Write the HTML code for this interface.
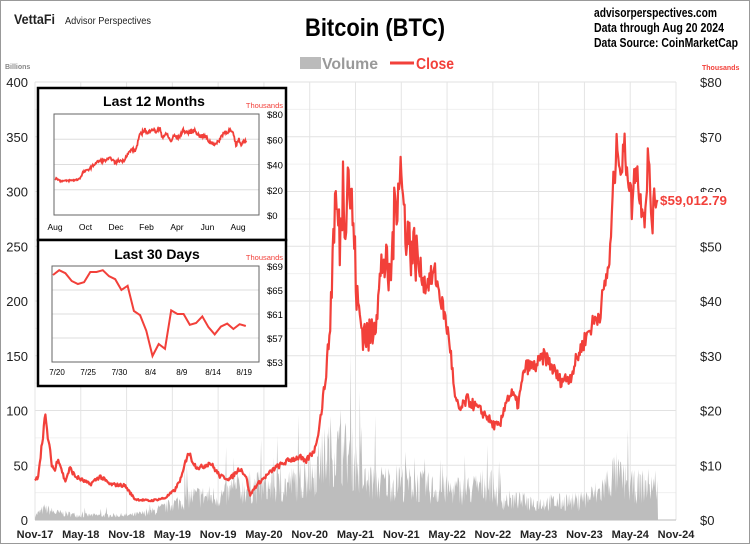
<!DOCTYPE html>
<html><head><meta charset="utf-8"><style>
body{margin:0;width:750px;height:544px;overflow:hidden;background:#fff;font-family:"Liberation Sans",sans-serif}
</style></head><body>
<svg id="s" width="750" height="544" xmlns="http://www.w3.org/2000/svg" font-family="Liberation Sans, sans-serif">
<rect x="0.5" y="0.5" width="749" height="543" fill="#fff" stroke="#999"/>
<g id="grid"></g>
<g id="vol"></g>
<g id="price"></g>
<text x="14" y="24" font-size="14" font-weight="bold" fill="#222" textLength="41" lengthAdjust="spacingAndGlyphs">VettaFi</text>
<text x="65" y="24" font-size="10" fill="#222" textLength="86" lengthAdjust="spacingAndGlyphs">Advisor Perspectives</text>
<text x="375" y="36" font-size="25" font-weight="bold" text-anchor="middle" fill="#000" textLength="140" lengthAdjust="spacingAndGlyphs">Bitcoin (BTC)</text>
<text x="594" y="17" font-size="12.5" font-weight="bold" textLength="123" lengthAdjust="spacingAndGlyphs">advisorperspectives.com</text>
<text x="594" y="32" font-size="12.5" font-weight="bold" textLength="130" lengthAdjust="spacingAndGlyphs">Data through Aug 20 2024</text>
<text x="594" y="47" font-size="12.5" font-weight="bold" textLength="144" lengthAdjust="spacingAndGlyphs">Data Source: CoinMarketCap</text>
<rect x="300" y="57" width="21" height="12" fill="#bbb"/>
<text x="322" y="69" font-size="16" font-weight="bold" fill="#999" textLength="56" lengthAdjust="spacingAndGlyphs">Volume</text>
<line x1="390" y1="63" x2="414" y2="63" stroke="#f2403a" stroke-width="3"/>
<text x="416" y="69" font-size="16" font-weight="bold" fill="#f2403a" textLength="38" lengthAdjust="spacingAndGlyphs">Close</text>
<text x="5" y="69" font-size="7" font-weight="bold" fill="#888">Billions</text>
<text x="702" y="70" font-size="7" font-weight="bold" fill="#f2403a">Thousands</text>
<g id="labels" font-size="13" fill="#222"></g>
<rect x="660" y="192" width="68" height="16" fill="#fff"/>
<text x="660" y="205" font-size="13" font-weight="bold" fill="#f2403a" textLength="67" lengthAdjust="spacingAndGlyphs">$59,012.79</text>
<g id="in1"></g>
<g id="in2"></g>
</svg>
<script>
const NS="http://www.w3.org/2000/svg";
function el(p,t,a,txt){const e=document.createElementNS(NS,t);for(const k in a)e.setAttribute(k,a[k]);if(txt!=null)e.textContent=txt;document.getElementById(p).appendChild(e);return e;}
let seed=7;function rnd(){seed=(seed*16807)%2147483647;return seed/2147483647;}
const X0=35,X1=676,Y0=520,Y1=82;
const mx=m=>X0+m*(X1-X0)/84;
for(let i=0;i<=16;i++){const y=Y0-i*(Y0-Y1)/16;el('grid','line',{x1:X0,x2:X1,y1:y,y2:y,stroke:i%2?'#f0f0f0':'#e2e2e2'});}
for(let i=0;i<=14;i++){const x=mx(i*6);el('grid','line',{x1:x,x2:x,y1:Y1,y2:Y0,stroke:'#e4e4e4'});}
el('grid','line',{x1:X0,x2:X1,y1:Y0,y2:Y0,stroke:'#bbb'});
for(let i=0;i<=8;i++){const y=Y0-i*(Y0-Y1)/8;el('labels','text',{x:28,y:y+5,'text-anchor':'end'},String(i*50));if(i!=6)el('labels','text',{x:700,y:y+5},'$'+(i*10));}
el('labels','text',{x:700,y:197},'$60');
const ml=['Nov-17','May-18','Nov-18','May-19','Nov-19','May-20','Nov-20','May-21','Nov-21','May-22','Nov-22','May-23','Nov-23','May-24','Nov-24'];
ml.forEach((t,i)=>el('labels','text',{x:mx(i*6),y:538,'text-anchor':'middle','font-size':'11','font-weight':'bold'},t));
function interp(t,m){if(m<=t[0][0])return t[0][1];for(let i=1;i<t.length;i++)if(m<=t[i][0]){const a=t[i-1],b=t[i];return a[1]+(b[1]-a[1])*(m-a[0])/(b[0]-a[0]);}return t[t.length-1][1];}
const venv=[[35,5],[45,12],[55,8],[80,5],[130,5],[150,8],[170,15],[190,25],[220,25],[250,35],[280,35],[310,45],[330,75],[350,70],[365,40],[400,40],[440,32],[470,32],[490,40],[500,22],[540,18],[580,20],[600,30],[615,50],[630,35],[658,38]];
let vp='M'+X0+','+Y0;const vs=(Y0-Y1)/400;
for(let x=X0;x<=658;x+=0.7){let v=interp(venv,x)*(0.4+rnd()*0.9);if(rnd()<0.05)v*=1.9;vp+=' L'+x.toFixed(1)+','+(Y0-v*vs).toFixed(1);}
vp+=' L658,'+Y0+' Z';el('vol','path',{d:vp,fill:'#bdbdbd'});
const tab=[[35,7],[38,8],[42,14],[45,19],[48,15],[52,10],[55,9],[58,11.5],[62,9],[65,7],[70,9.5],[75,8],[80,7.5],[90,6.5],[100,8],[110,6.5],[125,6.3],[130,5],[135,3.8],[150,3.5],[165,4],[175,5.5],[182,8],[188,12.5],[195,10],[200,9.5],[210,10.5],[220,8],[230,7.5],[240,9.5],[246,8],[250,4.5],[255,6],[260,7],[275,9.5],[290,11],[300,11.5],[305,10.5],[315,13],[320,18],[325,25],[330,35],[333,50],[335,58],[338,55],[340,50],[343,62],[345,55],[348,65],[350,60],[353,55],[357,40],[362,35],[370,33],[378,40],[383,48],[390,43],[395,57],[398,62],[400,66],[403,58],[405,55],[410,50],[415,49],[425,43],[435,45],[445,37],[450,32],[455,22],[460,20],[467,22],[480,20],[487,19],[492,17.5],[500,17],[506,22],[512,23],[518,21],[525,28],[535,28],[545,30],[555,27],[560,25.5],[570,26],[580,31],[590,35],[600,38],[605,43],[610,48],[613,60],[618,70],[621,63],[624,68],[628,64],[632,57],[636,66],[640,58],[643,58],[645,55],[648,67],[652,54],[655,59],[658,59]];
const ps=(Y0-Y1)/80;let pp='';
for(let x=X0;x<=658;x+=0.8){let v=interp(tab,x);const nz=(x>330&&x<420)?0.22:0.1;v*=1+(rnd()-0.5)*nz;pp+=(pp?' L':'M')+x.toFixed(1)+','+(Y0-v*ps).toFixed(1);}
el('price','path',{d:pp,fill:'none',stroke:'#f2403a','stroke-width':2.2,'stroke-linejoin':'round'});
el('in1','rect',{x:38,y:88,width:248,height:152,fill:'#fff',stroke:'#000','stroke-width':2.5});
el('in1','text',{x:154,y:106,'font-size':14,'font-weight':'bold','text-anchor':'middle'},'Last 12 Months');
el('in1','text',{x:283,y:108,'font-size':7.5,fill:'#f2403a','text-anchor':'end'},'Thousands');
for(let i=0;i<=4;i++){const y=215-i*25.25;el('in1','line',{x1:54,x2:259,y1:y,y2:y,stroke:'#ddd'});el('in1','text',{x:267,y:y+4,'font-size':9.5},'$'+i*20);}
el('in1','rect',{x:54,y:114,width:205,height:101,fill:'none',stroke:'#666'});
['Aug','Oct','Dec','Feb','Apr','Jun','Aug'].forEach((t,i)=>el('in1','text',{x:55+i*30.5,y:230,'font-size':8.5,'text-anchor':'middle'},t));
const y12=[[0,29],[0.3,29],[0.7,27],[1.5,27],[2.5,27.5],[3.2,28],[3.7,30],[4,34],[4.5,35],[5,37],[6,42],[6.5,43],[7,43],[8,45],[8.6,41],[9,43],[9.8,43],[10.3,48],[11,52],[11.5,51],[12,62],[12.8,68],[13.2,64],[13.8,69],[14.3,66],[15,68],[15.3,62],[16,64],[16.5,58],[17,63],[17.6,61],[18.3,67],[19,65],[20,67],[20.5,63],[21.5,62],[22,58],[23,56],[23.5,60],[24,65],[25,67],[25.5,63],[25.8,55],[26.2,60],[26.5,56],[27,59],[27.3,59]];
let p1='';for(let i=0;i<=330;i++){const m=i*27.3/330;let v=interp(y12,m)*(1+(rnd()-0.5)*0.05);const x=55+m*(30.5/4.35);p1+=(p1?' L':'M')+x.toFixed(1)+','+(215-v*101/80).toFixed(1);}
el('in1','path',{d:p1,fill:'none',stroke:'#f2403a','stroke-width':1.8});
el('in2','rect',{x:38,y:240,width:248,height:146,fill:'#fff',stroke:'#000','stroke-width':2.5});
el('in2','text',{x:157,y:259,'font-size':14,'font-weight':'bold','text-anchor':'middle'},'Last 30 Days');
el('in2','text',{x:283,y:260,'font-size':7.5,fill:'#f2403a','text-anchor':'end'},'Thousands');
[69,65,61,57,53].forEach((v,i)=>{const y=266+i*24;el('in2','line',{x1:52,x2:259,y1:y,y2:y,stroke:'#ddd'});el('in2','text',{x:267,y:y+4,'font-size':9.5},'$'+v);});
el('in2','rect',{x:52,y:266,width:207,height:96,fill:'none',stroke:'#666'});
['7/20','7/25','7/30','8/4','8/9','8/14','8/19'].forEach((t,i)=>el('in2','text',{x:57+i*31.2,y:375,'font-size':8,'text-anchor':'middle'},t));
const d30=[67.5,68.3,67.8,66.5,66,66.3,68,68,68.3,67.3,66.8,65,65.7,61.5,60.8,58.2,54,56,55.2,61.6,61,61,59.2,59.5,60.6,58.8,57.6,58.9,59.4,58.5,59.3,59];
let p2='';d30.forEach((v,i)=>{const x=53+i*6.22;p2+=(i?' L':'M')+x.toFixed(1)+','+(266+(69-v)*6).toFixed(1);});
el('in2','path',{d:p2,fill:'none',stroke:'#f2403a','stroke-width':2});
</script>
</body></html>
